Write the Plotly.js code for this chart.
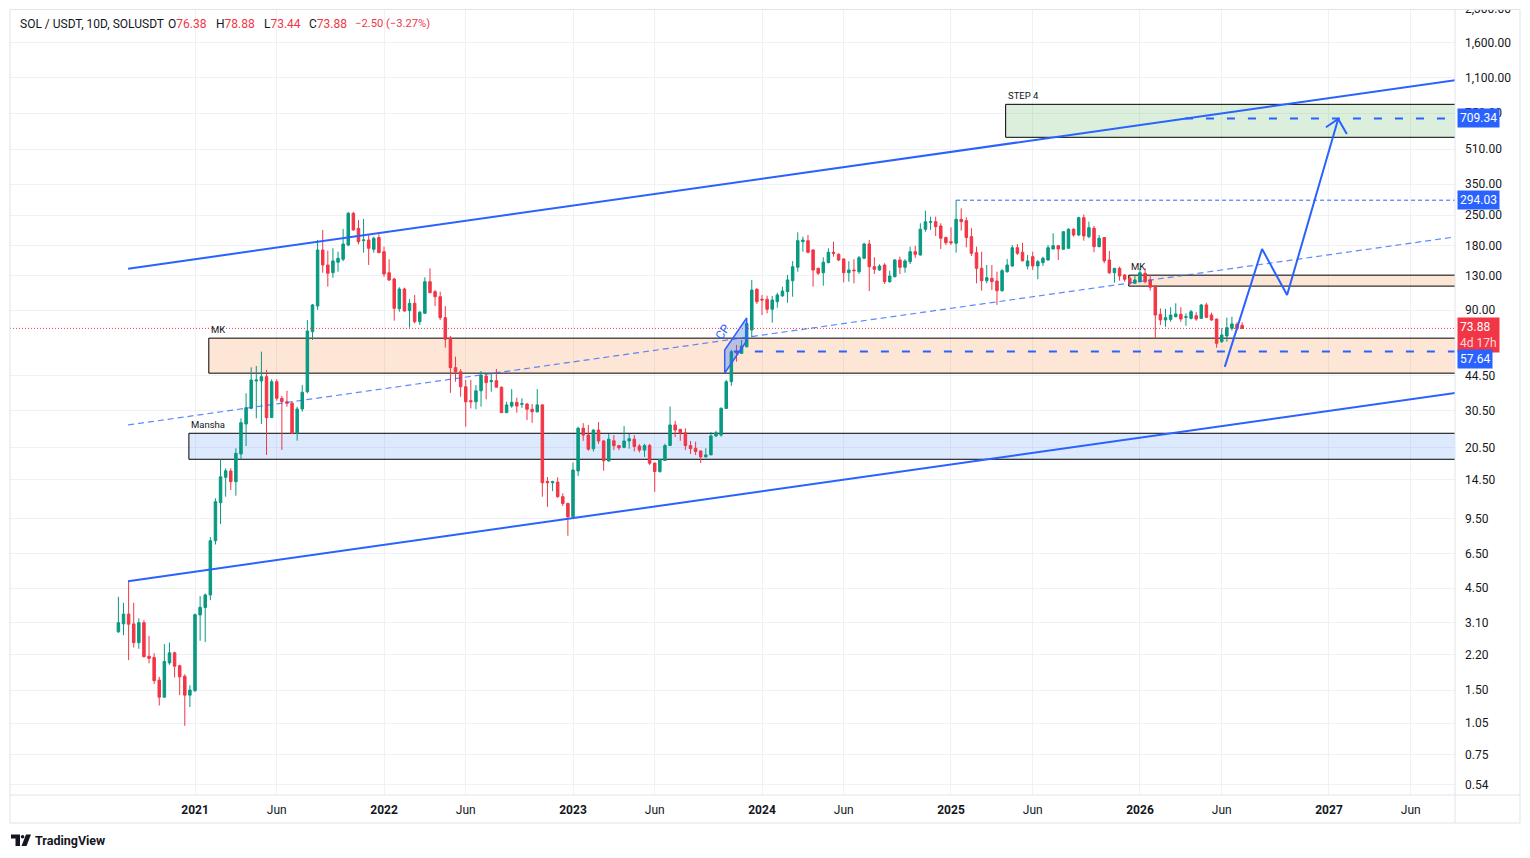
<!DOCTYPE html>
<html>
<head>
<meta charset="utf-8">
<script src="https://cdn.plot.ly/plotly-3.0.1.min.js"></script>
<style>
  html, body { margin: 0; padding: 0; background: #ffffff; }
  #chart { width: 1530px; height: 858px; }
</style>
</head>
<body>
<div id="chart"></div>
<script>
// SOL / USDT, 10-day candles (Binance), first bar 2020-08-08
const FIRST_BAR = '2020-08-08';

const opens = [
  2.81, 3.06, 3.40, 3.06, 2.50, 3.10, 2.16, 2.13, 1.67, 1.39,
  2.01, 2.24, 1.95, 1.74, 1.42, 1.49, 3.37, 3.65, 4.18, 7.50,
  11.29, 14.85, 15.89, 14.16, 19.09, 26.37, 31.23, 41.90, 41.90, 43.91,
  28.30, 41.59, 34.78, 33.50, 33.00, 23.86, 30.99, 37.35, 71.28, 94.04,
  171.9, 146.3, 134.6, 150.6, 155.5, 181.4, 255.3, 217.3, 190.1, 191.5,
  173.2, 196.6, 168.8, 134.6, 125.8, 91.3, 112.9, 89.4, 96.8, 79.4,
  86.9, 122.2, 109.7, 103.9, 82.9, 66.6, 48.4, 46.3, 39.4, 33.9,
  33.5, 37.7, 44.2, 41.6, 42.05, 39.2, 29.8, 32.0, 33.3, 32.6,
  32.7, 30.9, 30.1, 32.4, 14.2, 14.0, 14.1, 12.05, 11.2, 9.71,
  15.9, 25.2, 23.4, 20.2, 24.7, 21.96, 17.7, 22.0, 20.9, 20.5,
  21.96, 22.4, 20.8, 19.9, 20.9, 17.3, 15.8, 17.8, 20.9, 26.1,
  24.9, 24.0, 20.9, 20.3, 19.7, 18.5, 18.9, 23.2, 23.4, 31.2,
  41.6, 57.5, 56.4, 60.6, 72.6, 112.6, 101.1, 101.1, 90.8, 98.5,
  104.8, 109.7, 123.5, 142.7, 188.0, 190.1, 171.9, 141.1, 134.6, 150.0,
  167.7, 164.1, 156.0, 134.6, 138.6, 136.1, 157.2, 183.4, 143.6, 138.6,
  146.3, 122.2, 128.9, 154.4, 142.7, 151.6, 168.8, 162.9, 214.9, 231.7,
  233.2, 222.7, 196.6, 188.0, 184.8, 239.3, 235.8, 198.5, 167.0, 141.1,
  123.5, 126.7, 123.1, 110.9, 136.1, 144.7, 176.2, 167.7, 144.7, 160.0,
  144.7, 150.0, 154.4, 173.8, 180.0, 173.2, 175.1, 214.9, 202.1, 243.5,
  198.5, 217.3, 178.2, 196.6, 154.4, 134.6, 141.1, 131.3, 126.7, 120.1,
  122.2, 133.8, 124.5, 116.7, 86.0, 80.9, 81.4, 83.8, 86.0, 83.2,
  82.3, 84.7, 82.3, 95.1, 85.3, 81.7, 64.0, 68.1, 73.9, 77.2,
  76.38
];
const highs = [
  4.10, 3.84, 4.87, 3.84, 3.25, 3.19, 2.69, 2.23, 1.73, 2.46,
  2.50, 2.27, 1.97, 1.78, 1.58, 3.42, 4.13, 4.25, 7.80, 11.84,
  18.03, 16.36, 16.36, 20.29, 28.04, 36.72, 48.58, 49.27, 57.48, 47.19,
  42.68, 42.68, 35.65, 37.72, 33.54, 31.77, 40.14, 80.88, 96.10, 191.5,
  213.3, 170.7, 175.1, 168.8, 215.6, 259.0, 259.0, 237.5, 240.1, 202.1,
  198.5, 203.6, 178.2, 155.5, 127.5, 115.1, 114.6, 101.4, 105.9, 89.1,
  128.1, 141.1, 111.7, 109.7, 94.0, 68.1, 54.45, 47.7, 42.4, 42.4,
  40.1, 46.7, 45.1, 45.8, 47.7, 39.5, 33.5, 38.4, 35.0, 34.8,
  33.0, 32.7, 38.4, 32.6, 14.9, 14.3, 14.85, 12.5, 11.3, 17.4,
  25.6, 26.6, 26.1, 24.9, 26.9, 22.2, 23.7, 23.4, 20.9, 25.8,
  23.7, 23.4, 21.2, 21.3, 21.3, 17.4, 18.1, 21.3, 31.8, 27.3,
  25.0, 25.2, 21.96, 21.8, 19.9, 20.3, 24.2, 24.5, 31.6, 42.4,
  58.5, 61.8, 65.2, 78.0, 124.5, 113.8, 105.9, 105.1, 104.8, 108.5,
  115.8, 131.3, 152.4, 208.1, 198.5, 202.1, 173.8, 142.1, 158.9, 175.1,
  188.0, 165.9, 157.2, 152.4, 155.5, 161.2, 186.0, 191.5, 158.9, 147.4,
  149.0, 137.5, 156.0, 160.0, 155.5, 178.2, 180.0, 229.3, 262.6, 246.2,
  246.2, 229.3, 198.5, 219.6, 294.03, 269.4, 244.6, 217.3, 178.2, 168.8,
  146.3, 146.3, 136.1, 140.1, 156.0, 181.4, 183.4, 186.0, 162.9, 168.8,
  154.4, 160.0, 181.4, 205.8, 181.4, 209.4, 217.3, 217.3, 246.2, 252.0,
  233.2, 222.7, 202.1, 197.0, 170.1, 141.1, 143.6, 132.7, 129.9, 131.3,
  141.1, 141.1, 131.3, 117.0, 91.7, 91.1, 92.7, 96.8, 92.7, 86.9,
  90.1, 87.9, 96.1, 97.4, 87.5, 82.0, 73.9, 82.9, 83.8, 78.9,
  78.88
];
const lows = [
  2.78, 2.71, 2.07, 2.37, 2.34, 2.13, 2.00, 1.60, 1.27, 1.38,
  1.97, 1.72, 1.42, 1.02, 1.25, 1.47, 2.55, 2.52, 3.95, 7.20,
  8.98, 12.05, 12.95, 12.18, 18.03, 20.81, 30.90, 28.04, 26.37, 18.89,
  28.22, 33.90, 19.93, 31.77, 23.68, 22.03, 30.10, 36.72, 65.20, 90.08,
  134.6, 115.8, 127.5, 136.1, 152.4, 179.3, 212.0, 182.8, 167.0, 146.3,
  167.0, 166.5, 128.9, 123.0, 80.25, 88.4, 88.4, 74.4, 78.0, 76.6,
  86.2, 107.9, 94.0, 80.9, 60.0, 36.9, 41.6, 35.4, 25.6, 31.2,
  30.9, 31.8, 34.4, 37.35, 39.2, 29.8, 29.8, 31.4, 29.8, 31.4,
  27.5, 26.7, 29.8, 12.05, 10.8, 12.8, 11.9, 10.9, 7.91, 9.6,
  15.06, 22.0, 19.8, 19.6, 21.3, 15.94, 17.6, 19.9, 19.9, 20.3,
  20.2, 19.6, 19.4, 18.5, 16.96, 12.7, 15.6, 17.7, 20.8, 22.9,
  22.0, 19.9, 19.1, 18.9, 17.3, 18.4, 18.9, 22.9, 23.0, 31.0,
  39.8, 51.6, 56.4, 60.2, 67.1, 96.1, 85.3, 86.9, 78.6, 92.3,
  103.9, 97.4, 103.9, 136.1, 168.8, 165.9, 115.8, 131.3, 117.0, 149.0,
  160.0, 152.4, 121.4, 122.2, 120.1, 132.7, 156.0, 110.5, 132.7, 137.5,
  119.2, 120.8, 128.1, 132.7, 134.6, 147.8, 158.0, 162.0, 209.4, 213.3,
  199.9, 173.8, 181.4, 181.4, 167.0, 211.7, 177.0, 161.2, 120.1, 110.9,
  120.1, 111.7, 95.1, 109.7, 134.6, 143.6, 162.9, 151.6, 139.6, 138.6,
  125.4, 144.7, 153.2, 173.5, 154.4, 173.2, 175.1, 198.5, 200.0, 190.1,
  195.1, 167.7, 177.0, 149.0, 132.7, 120.8, 123.5, 122.2, 116.7, 119.2,
  122.0, 120.1, 110.9, 66.6, 76.6, 75.2, 79.4, 83.2, 79.4, 76.0,
  81.4, 80.2, 82.0, 83.0, 80.2, 60.0, 63.3, 64.0, 72.1, 72.6,
  73.44
];
const closes = [
  3.10, 3.40, 3.05, 2.50, 3.10, 2.15, 2.11, 1.66, 1.39, 2.04,
  2.24, 1.94, 1.73, 1.42, 1.50, 3.38, 3.66, 4.18, 7.50, 11.42,
  14.94, 15.94, 14.16, 19.23, 26.74, 31.44, 42.36, 42.36, 43.91, 28.22,
  41.59, 34.78, 33.54, 32.96, 23.86, 30.99, 37.11, 71.82, 95.07, 171.9,
  146.3, 133.8, 152.8, 157.2, 183.4, 255.3, 213.3, 188.0, 191.5, 175.1,
  195.1, 167.0, 132.7, 124.5, 91.74, 112.9, 89.1, 96.8, 79.4, 87.86,
  122.2, 108.5, 103.9, 82.9, 65.7, 48.4, 46.3, 39.4, 33.5, 33.5,
  37.7, 44.7, 41.2, 42.05, 39.2, 29.8, 32.4, 33.3, 32.0, 32.8,
  30.9, 30.1, 32.4, 14.0, 14.0, 14.16, 12.05, 11.2, 9.71, 16.06,
  25.2, 23.4, 20.1, 24.7, 21.96, 17.76, 22.4, 20.87, 20.4, 21.96,
  22.5, 20.7, 19.9, 20.9, 17.27, 15.8, 18.0, 20.9, 26.1, 24.7,
  23.9, 20.9, 20.2, 19.6, 18.5, 18.9, 23.2, 24.0, 31.2, 41.6,
  57.5, 56.9, 61.1, 78.0, 111.7, 98.5, 100.3, 90.8, 100.3, 105.9,
  110.5, 124.5, 143.6, 190.1, 191.5, 167.7, 138.6, 133.8, 150.6, 167.7,
  165.9, 154.4, 134.6, 138.6, 137.5, 158.2, 183.4, 143.6, 139.6, 144.7,
  122.2, 129.9, 154.4, 142.7, 152.8, 168.8, 164.1, 214.9, 233.2, 233.2,
  221.0, 195.1, 186.0, 186.0, 239.3, 233.2, 196.6, 165.9, 141.1, 123.5,
  127.5, 122.2, 110.9, 137.5, 146.3, 176.2, 165.9, 153.2, 152.8, 144.7,
  151.6, 157.2, 176.2, 180.0, 173.8, 209.4, 214.9, 202.1, 243.5, 199.9,
  218.6, 178.2, 195.1, 152.8, 134.6, 141.1, 129.9, 125.4, 120.1, 124.5,
  134.6, 122.2, 115.1, 85.3, 80.9, 82.9, 85.3, 86.3, 81.7, 83.8,
  88.4, 81.7, 95.1, 83.2, 80.9, 62.9, 68.8, 74.4, 77.5, 73.6,
  73.88
];

// Time scale labels (TradingView puts each label on the first bar of the period)
const timeTickDates = ['2021-01-01', '2021-06-10', '2022-01-01', '2022-06-10', '2023-01-01', '2023-06-10',
  '2024-01-01', '2024-06-09', '2025-01-01', '2025-06-10', '2026-01-01', '2026-06-10', '2027-01-01', '2027-06-10'];
const timeTickText = ['<b>2021</b>', 'Jun', '<b>2022</b>', 'Jun', '<b>2023</b>', 'Jun',
  '<b>2024</b>', 'Jun', '<b>2025</b>', 'Jun', '<b>2026</b>', 'Jun', '<b>2027</b>', 'Jun'];

// Price scale labels (log scale)
const priceTicks = [0.54, 0.75, 1.05, 1.5, 2.2, 3.1, 4.5, 6.5, 9.5, 14.5, 20.5, 30.5, 44.5,
  90, 130, 180, 250, 350, 510, 750, 1100, 1600, 2300];

// Drawings: trend channel (two anchors each: start date / right edge)
const channelDates = ['2020-08-27', '2027-09-05'];
const upperChannel = [140.5, 1070];
const lowerChannel = [4.85, 36.8];
const middleLine = [26.1, 198];

// Zones: label, left edge date, bottom price, top price
const zoneNames = ['MK', 'Mansha', 'MK', 'STEP 4'];
const zoneStart = ['2021-01-28', '2020-12-24', '2025-12-15', '2025-04-18'];
const zoneLow = [45.6, 18.03, 116.5, 579];
const zoneHigh = [66.5, 23.86, 131.1, 826];
const zoneFill = ['rgba(245,115,20,0.18)', 'rgba(41,120,240,0.16)', 'rgba(245,115,20,0.18)', 'rgba(76,175,80,0.2)'];

// Horizontal levels
const levelPrice = [709.34, 294.03, 57.64];
const levelStart = ['2026-03-30', '2025-01-11', '2023-11-12'];

// Projected path with arrow
const pathDates = ['2026-06-16', '2026-08-28', '2026-10-16', '2027-01-19'];
const pathPrices = [48.8, 173.8, 105.9, 705];
const arrowDates = ['2026-12-29', '2027-01-19', '2027-02-05'];
const arrowPrices = [645, 705, 600];

// CP flag
const flagDates = ['2023-10-25', '2023-12-07', '2023-12-07', '2023-10-25'];
const flagPrices = [45.7, 64.5, 82.6, 58.5];

const lastPrice = closes[closes.length - 1];

// ---- bar positions: 10D bars restart each 1 January (Jan 1, Jan 11, ... Dec 27) ----
function rawPos(dateStr) {
  const d = new Date(dateStr + 'T00:00:00Z');
  const y = d.getUTCFullYear();
  const doy = Math.round((d - Date.UTC(y, 0, 1)) / 86400000);
  const diy = (y % 4 === 0) ? 366 : 365;
  const f = doy < 360 ? doy / 10 : 36 + (doy - 360) / (diy - 360);
  return (y - 2020) * 37 + f;
}
const origin = rawPos(FIRST_BAR);
const barPos = s => rawPos(s) - origin;

function barDates(first, n) {
  const out = [];
  let d = new Date(first + 'T00:00:00Z');
  for (let i = 0; i < n; i++) {
    out.push(d.toISOString().slice(0, 10));
    const nx = new Date(d.getTime() + 10 * 86400000);
    d = nx.getUTCFullYear() !== d.getUTCFullYear() ? new Date(Date.UTC(nx.getUTCFullYear(), 0, 1)) : nx;
  }
  return out;
}
const dates = barDates(FIRST_BAR, closes.length);
const xs = dates.map(barPos);

// pixel helpers for layout furniture (plot area 10..1455 x 9..795)
const pxX = px => (px - 10) / 1445;
const pxY = py => (795 - py) / 786;

const BLUE = '#2962ff';
const RED = '#f23645';
const GREEN = '#089981';
const TEXT = '#131722';
const FONT = 'Roboto, "Liberation Sans", Arial, sans-serif';

const traces = [];

// trend channel
traces.push({ type: 'scatter', mode: 'lines', x: channelDates.map(barPos), y: upperChannel,
  line: { color: BLUE, width: 2 }, hoverinfo: 'skip' });
traces.push({ type: 'scatter', mode: 'lines', x: channelDates.map(barPos), y: lowerChannel,
  line: { color: BLUE, width: 2 }, hoverinfo: 'skip' });
traces.push({ type: 'scatter', mode: 'lines', x: channelDates.map(barPos), y: middleLine,
  line: { color: 'rgba(41,98,255,0.75)', width: 1.2, dash: '6px,4px' }, hoverinfo: 'skip' });

// candles
traces.push({
  type: 'candlestick', x: xs, open: opens, high: highs, low: lows, close: closes,
  increasing: { line: { color: GREEN, width: 1 }, fillcolor: GREEN },
  decreasing: { line: { color: RED, width: 1 }, fillcolor: RED },
  whiskerwidth: 0, hoverinfo: 'skip'
});

// CP flag
traces.push({ type: 'scatter', mode: 'lines', x: flagDates.map(barPos).concat([barPos(flagDates[0])]),
  y: flagPrices.concat([flagPrices[0]]), fill: 'toself', fillcolor: 'rgba(41,98,255,0.3)',
  line: { color: BLUE, width: 1.5 }, hoverinfo: 'skip' });

// projection path
traces.push({ type: 'scatter', mode: 'lines', x: pathDates.map(barPos), y: pathPrices,
  line: { color: BLUE, width: 2 }, hoverinfo: 'skip' });
traces.push({ type: 'scatter', mode: 'lines', x: arrowDates.map(barPos), y: arrowPrices,
  line: { color: BLUE, width: 2 }, hoverinfo: 'skip' });

const xEnd = 261.67;
const xStart = -21.22;

const shapes = [];
// zones
zoneNames.forEach((n, k) => {
  shapes.push({ type: 'rect', xref: 'x', yref: 'y', layer: 'between',
    x0: barPos(zoneStart[k]), x1: xEnd + 5, y0: zoneLow[k], y1: zoneHigh[k],
    fillcolor: zoneFill[k], line: { color: '#000000', width: 1 } });
});
// levels
levelPrice.forEach((p, k) => {
  const thin = k === 1;
  shapes.push({ type: 'line', xref: 'x', yref: 'y', layer: 'above',
    x0: barPos(levelStart[k]), x1: xEnd, y0: p, y1: p,
    line: { color: BLUE, width: thin ? 1 : 2, dash: thin ? '4px,3px' : '8px,13px' } });
});
// last price line
shapes.push({ type: 'line', xref: 'paper', yref: 'y', x0: 0, x1: 1, y0: lastPrice, y1: lastPrice,
  line: { color: RED, width: 1, dash: '1px,2px' } });
// strip above the pane (clips the topmost scale label)
shapes.push({ type: 'rect', xref: 'paper', yref: 'paper', x0: pxX(0), x1: pxX(1530), y0: pxY(9.5), y1: pxY(0),
  fillcolor: '#ffffff', line: { width: 0 } });
// frame
shapes.push({ type: 'rect', xref: 'paper', yref: 'paper', x0: pxX(10), x1: pxX(1520), y0: pxY(823), y1: pxY(9.5),
  line: { color: '#e0e3eb', width: 1 }, fillcolor: 'rgba(0,0,0,0)' });
shapes.push({ type: 'line', xref: 'paper', yref: 'paper', x0: pxX(10), x1: pxX(1520), y0: 0, y1: 0,
  line: { color: '#e0e3eb', width: 1 } });
shapes.push({ type: 'line', xref: 'paper', yref: 'paper', x0: 1, x1: 1, y0: pxY(823), y1: pxY(9.5),
  line: { color: '#e0e3eb', width: 1 } });
// TradingView logo mark
shapes.push({ type: 'path', xref: 'paper', yref: 'paper',
  path: `M ${pxX(11)} ${pxY(834.5)} L ${pxX(20)} ${pxY(834.5)} L ${pxX(20)} ${pxY(846)} L ${pxX(15.5)} ${pxY(846)} L ${pxX(15.5)} ${pxY(838.5)} L ${pxX(11)} ${pxY(838.5)} Z`,
  fillcolor: TEXT, line: { width: 0 } });
shapes.push({ type: 'circle', xref: 'paper', yref: 'paper', x0: pxX(20.8), x1: pxX(24.4), y0: pxY(838.6), y1: pxY(835),
  fillcolor: TEXT, line: { width: 0 } });
shapes.push({ type: 'path', xref: 'paper', yref: 'paper',
  path: `M ${pxX(26)} ${pxY(834.5)} L ${pxX(31)} ${pxY(834.5)} L ${pxX(26.5)} ${pxY(846)} L ${pxX(21.5)} ${pxY(846)} Z`,
  fillcolor: TEXT, line: { width: 0 } });

const annotations = [];
// header
const hdrY = pxY(24);
const red = s => `<span style="color:${RED}">${s}</span>`;
[[18, 'SOL / USDT, 10D, SOLUSDT', 12],
 [166, 'O' + red(opens[opens.length - 1].toFixed(2)), 12],
 [214, 'H' + red(highs[highs.length - 1].toFixed(2)), 12],
 [262, 'L' + red(lows[lows.length - 1].toFixed(2)), 12],
 [307, 'C' + red(lastPrice.toFixed(2)), 12],
 [353, red('\u22122.50 (\u22123.27%)'), 11.2]
].forEach(([px, t, fs]) => annotations.push({ xref: 'paper', yref: 'paper', x: pxX(px), y: hdrY,
  xanchor: 'left', yanchor: 'middle', text: t, showarrow: false, font: { size: fs, color: TEXT, family: FONT } }));

// zone labels
zoneNames.forEach((n, k) => annotations.push({ xref: 'x', yref: 'y', x: barPos(zoneStart[k]),
  y: Math.log10(zoneHigh[k]), xanchor: 'left', yanchor: 'bottom', yshift: 1, text: n, showarrow: false,
  font: { size: 9.5, color: TEXT, family: FONT } }));

// CP text
annotations.push({ xref: 'x', yref: 'y', x: barPos('2023-10-21'), y: Math.log10(71), text: 'CP',
  textangle: -55, showarrow: false, font: { size: 12, color: BLUE, family: FONT } });

// price scale labels
const tag = (p, bg, txt, shift) => ({ xref: 'paper', yref: 'y', x: pxX(1457), y: Math.log10(p), yshift: shift || 0,
  xanchor: 'left', yanchor: 'middle', text: txt, showarrow: false, bgcolor: bg, borderpad: 2,
  font: { size: 12, color: '#ffffff', family: FONT }, align: 'left' });
annotations.push(tag(709.34, BLUE, '709.34'));
annotations.push(tag(294.03, BLUE, '294.03'));
annotations.push(tag(lastPrice, RED, lastPrice.toFixed(2) + '<br><span style="color:#ffd6da">4d 17h</span>', -7));
annotations.push(tag(57.64, BLUE, '57.64', -8));

// TradingView wordmark
annotations.push({ xref: 'paper', yref: 'paper', x: pxX(33), y: pxY(840), xanchor: 'left', yanchor: 'middle',
  text: '<b>TradingView</b>', showarrow: false, font: { size: 12.5, color: TEXT, family: FONT } });

const layout = {
  width: 1530, height: 858,
  margin: { l: 10, r: 75, t: 9, b: 63 },
  paper_bgcolor: '#ffffff', plot_bgcolor: '#ffffff',
  showlegend: false,
  font: { family: FONT, size: 12, color: TEXT },
  xaxis: {
    type: 'linear', range: [xStart, xEnd], fixedrange: true,
    tickmode: 'array', tickvals: timeTickDates.map(barPos), ticktext: timeTickText,
    showgrid: true, gridcolor: '#f0f1f4', gridwidth: 1, zeroline: false, showline: false,
    ticks: '', ticklabelstandoff: 6, tickfont: { size: 12, color: TEXT, family: FONT },
    rangeslider: { visible: false }
  },
  yaxis: {
    type: 'log', side: 'right', range: [Math.log10(0.4842), Math.log10(2307)], fixedrange: true,
    tickmode: 'array', tickvals: priceTicks,
    ticktext: priceTicks.map(v => v.toLocaleString('en-US', { minimumFractionDigits: 2, maximumFractionDigits: 2 })),
    showgrid: true, gridcolor: '#f0f1f4', gridwidth: 1, zeroline: false, showline: false,
    ticks: '', ticklabelstandoff: 9, tickfont: { size: 12, color: TEXT, family: FONT }
  },
  shapes: shapes,
  annotations: annotations
};

Plotly.newPlot('chart', traces, layout, { staticPlot: true, displayModeBar: false });
</script>
</body>
</html>
